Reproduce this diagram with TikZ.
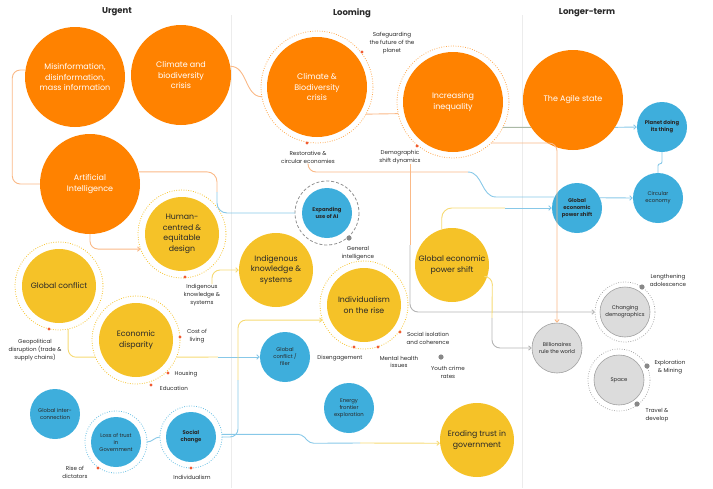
\documentclass[tikz,border=0pt]{standalone}
\usepackage{fontspec}
\setmainfont{Poppins}
\usetikzlibrary{arrows.meta}

\definecolor{agorange}{RGB}{255,130,0}
\definecolor{agyellow}{RGB}{245,194,40}
\definecolor{agblue}{RGB}{62,174,220}
\definecolor{aggreyfill}{RGB}{220,220,220}
\definecolor{aggreydraw}{RGB}{160,160,160}
\definecolor{agred}{RGB}{240,90,50}
\definecolor{agink}{RGB}{40,40,40}
\definecolor{lnorange}{RGB}{250,185,135}
\definecolor{lnblue}{RGB}{135,200,232}
\definecolor{lnyellow}{RGB}{246,218,115}
\definecolor{lngrey}{RGB}{180,180,180}
\definecolor{lngreen}{RGB}{170,185,165}
\definecolor{lndivider}{RGB}{236,236,236}

\tikzset{
	orangebig/.style={circle, fill=agorange, text=white, minimum size=100pt, inner sep=0pt, align=center, font=\fontsize{8}{10.5}\selectfont},
	yellowmid/.style={circle, fill=agyellow, text=agink, minimum size=74pt, inner sep=0pt, align=center, font=\fontsize{7.8}{10.5}\selectfont},
	bluesmall/.style={circle, fill=agblue, text=agink, minimum size=50pt, inner sep=0pt, align=center, font=\fontsize{5.3}{7}\selectfont},
	bluebold/.style={bluesmall, font=\bfseries\fontsize{5.3}{7}\selectfont},
	greysmall/.style={circle, fill=aggreyfill, draw=aggreydraw, line width=0.6pt, minimum size=50pt, inner sep=0pt, align=center, text=agink, font=\fontsize{5.3}{7}\selectfont},
	ringed/.style={outer sep=#1},
	notetext/.style={align=center, text=agink, inner sep=0pt, font=\fontsize{5.6}{7.8}\selectfont},
	headtext/.style={text=agink, font=\bfseries\fontsize{8.5}{10}\selectfont},
	orangering/.style={draw=agorange!70, line width=0.8pt, dash pattern=on 0.8pt off 1.6pt},
	yellowring/.style={draw=agyellow, line width=0.8pt, dash pattern=on 0.8pt off 1.6pt},
	bluering/.style={draw=agblue!80, line width=0.8pt, dash pattern=on 0.8pt off 1.6pt},
	greyring/.style={draw=aggreydraw, line width=0.7pt, dash pattern=on 0.8pt off 1.6pt},
	dashring/.style={draw=aggreydraw!90!black, line width=0.8pt, dash pattern=on 3pt off 2pt},
	reddot/.style={fill=agred},
	greydot/.style={fill=aggreydraw!85!black},
	orangeline/.style={draw=lnorange, line width=0.9pt},
	blueline/.style={draw=lnblue, line width=0.9pt},
	yellowline/.style={draw=lnyellow, line width=0.9pt},
	greyline/.style={draw=lngrey, line width=0.9pt},
	greenline/.style={draw=lngreen, line width=0.9pt},
	arrowtip/.style={-{Straight Barb[length=2.5pt,width=4.5pt]}},
}

\begin{document}
\begin{tikzpicture}[x=1pt,y=-1pt]
	\useasboundingbox (0,0) rectangle (713,488);
	\draw[lndivider, line width=0.8pt] (231,15) -- (231,488);		%column line
	\draw[lndivider, line width=0.8pt] (522,15) -- (522,488);		%column line
	\node[headtext] (hurgent) at (117,12) {Urgent};
	\node[headtext] (hlooming) at (352,13) {Looming};
	\node[headtext] (hlonger) at (587,13) {Longer-term};

	%urgent
	\node[orangebig] (mis) at (75,77) {Misinformation,\\disinformation,\\mass information};
	\node[orangebig] (cbu) at (181,75) {Climate and\\biodiversity\\crisis};
	\node[orangebig] (ai) at (90,184) {Artificial\\Intelligence};
	\node[yellowmid, ringed=7pt] (hcd) at (182,234) {Human-\\centred \&\\equitable\\design};
	\node[yellowmid, ringed=7pt] (gcon) at (59,286) {Global conflict};
	\node[yellowmid, ringed=7pt] (ecd) at (136,340) {Economic\\disparity};
	\node[bluesmall] (gic) at (55,414) {Global inter-\\connection};
	\node[bluesmall, ringed=6pt] (ltg) at (116,442) {Loss of trust\\in\\Government};
	\node[bluebold, ringed=6pt] (soc) at (191,437) {Social\\change};

	%looming
	\node[orangebig, ringed=6pt] (cbl) at (317,87) {Climate \&\\Biodiversity\\crisis};
	\node[orangebig, ringed=6pt] (ineq) at (453,102) {Increasing\\inequality};
	\node[bluebold, ringed=7pt] (eai) at (327,213) {Expanding\\use of AI};
	\node[yellowmid] (iks) at (276,270) {Indigenous\\knowledge \&\\systems};
	\node[yellowmid] (gep) at (452,265) {Global economic\\power shift};
	\node[yellowmid, ringed=7pt] (ind) at (364,305) {Individualism\\on the rise};
	\node[bluesmall] (gcf) at (285,357) {Global\\conflict /\\filer};
	\node[bluesmall] (efe) at (349,408) {Energy\\frontier\\exploration};
	\node[yellowmid] (etg) at (477,440) {Eroding trust in\\government};

	%longer-term
	\node[orangebig] (agile) at (573,100) {The Agile state};
	\node[bluebold] (pdt) at (662,127) {Planet doing\\its thing};
	\node[bluesmall] (circ) at (658,198) {Circular\\economy};
	\node[bluebold] (gepb) at (577,208) {Global\\economic\\power shift};
	\node[greysmall] (bil) at (557,348) {Billionaires\\rule the world};
	\node[greysmall, ringed=5pt] (chd) at (625,312) {Changing\\demographics};
	\node[greysmall, ringed=6pt] (spc) at (619,380) {Space};

	%labels
	\node[notetext] (sfp) at (392,43) {Safeguarding\\the future of the\\planet};
	\node[notetext] (rce) at (308,157) {Restorative \&\\circular economies};
	\node[notetext] (dsd) at (400,157) {Demographic\\shift dynamics};
	\node[notetext] (gin) at (358,253) {General\\intelligence};
	\node[notetext] (ikl) at (202,295) {Indigenous\\knowledge \&\\systems};
	\node[notetext] (geo) at (35,350) {Geopolitical\\disruption (trade \&\\supply chains)};
	\node[notetext] (col) at (197,336) {Cost of\\living};
	\node[notetext] (hou) at (186,374) {Housing};
	\node[notetext] (edu) at (174,388) {Education};
	\node[notetext] (sic) at (428,338) {Social isolation\\and coherence};
	\node[notetext] (dis) at (340,358) {Disengagement};
	\node[notetext] (mhi) at (399,362) {Mental health\\issues};
	\node[notetext] (ycr) at (448,372) {Youth crime\\rates};
	\node[notetext] (lad) at (668,280) {Lengthening\\adolescence};
	\node[notetext] (exm) at (670,367) {Exploration\\\& Mining};
	\node[notetext] (trd) at (657,415) {Travel \&\\develop};
	\node[notetext] (rod) at (75,472) {Rise of\\dictators};
	\node[notetext] (inl) at (192,477) {Individualism};

	%rings
	\draw[orangering] (cbl) circle (56);
	\draw[orangering] (ineq) circle (56);
	\draw[yellowring] (hcd) circle (44);
	\draw[yellowring] (gcon) circle (44);
	\draw[yellowring] (ecd) circle (44);
	\draw[yellowring] (ind) circle (44);
	\draw[bluering] (ltg) circle (31);
	\draw[bluering] (soc) circle (31);
	\draw[dashring] (eai) circle (32);
	\draw[greyring] (chd) circle (30);
	\draw[greyring] (spc) circle (31);

	%dots
	\fill[reddot] (362,52) circle (1.6);
	\fill[reddot] (307,143) circle (1.6);
	\fill[reddot] (417,146) circle (1.6);
	\fill[reddot] (185,277) circle (1.6);
	\fill[reddot] (49,329) circle (1.6);
	\fill[reddot] (180,337) circle (1.6);
	\fill[reddot] (168,373) circle (1.6);
	\fill[reddot] (151,385) circle (1.6);
	\fill[reddot] (400,332) circle (1.6);
	\fill[reddot] (354,347) circle (1.6);
	\fill[reddot] (378,347) circle (1.6);
	\fill[reddot] (98,468) circle (1.6);
	\fill[reddot] (191,468) circle (1.6);
	\fill[greydot] (349,238) circle (2.6);
	\fill[greydot] (441,357) circle (2.6);
	\fill[greydot] (642,287) circle (2.6);
	\fill[greydot] (647,366) circle (2.6);
	\fill[greydot] (637,404) circle (2.6);

	%connectors
	\coordinate (bend1) at (468,172);
	\coordinate (bend2) at (496,197);
	\coordinate (bend3) at (410,245);
	\coordinate (bend4) at (505,208);
	\coordinate (bend5) at (492,318);
	\coordinate (bend6) at (217,192);
	\coordinate (bend7) at (238,380);
	\coordinate (bend8) at (360,443);
	\coordinate (bend9) at (218,357);
	\draw[orangeline, rounded corners=8] (mis.172) -- ++(-13,0) |- (ai.west);			%misinformation to AI
	\draw[orangeline] (cbu.10) to[out=0,in=180] (cbl.190);							%climate to climate
	\draw[orangeline] (cbl.-29) -- (ineq.192);
	\draw[greenline] (ineq.-27) -- (agile.213);
	\draw[orangeline, arrowtip, rounded corners=8] (ineq.-47) -| (bil.north);
	\draw[blueline, arrowtip] (agile.-33) -- (pdt.west);
	\draw[blueline, rounded corners=2] (circ.north) -- ++(0,-9) -| (pdt.south);
	\draw[blueline, arrowtip] (gepb.24) -- (circ.west);
	\draw[orangeline, rounded corners=8] (rce.south) |- (bend1);						%restorative to power shift
	\draw[blueline] (bend1) to[out=0,in=180] (bend2) -- (gepb.154);
	\draw[orangeline, rounded corners=8] ([xshift=10pt]dsd.south) -- (bend3);			%demographics
	\draw[greyline, arrowtip, rounded corners=8] (bend3) |- (chd.west);
	\draw[yellowline, rounded corners=10] (gep.106) |- (bend4);						%power shift to power shift
	\draw[blueline, arrowtip] (bend4) -- (gepb.west);
	\draw[yellowline, rounded corners=8] (gep.-18) -- ++(5,0) -- (bend5);
	\draw[greyline, arrowtip, rounded corners=8] (bend5) |- (bil.west);
	\draw[orangeline, rounded corners=10] (ai.14) -| (bend6);							%AI to expanding AI
	\draw[blueline, rounded corners=10] (bend6) |- (eai.west);
	\draw[orangeline, arrowtip, rounded corners=8] (ai.south) |- (hcd.200);
	\draw[yellowline, arrowtip, rounded corners=8] ([xshift=10pt]ikl.north) |- (iks.west);
	\draw[yellowline, rounded corners=8] (gcon.-78) |- (ecd.203);
	\draw[yellowline] (ecd.-23) -- (bend9);
	\draw[blueline, arrowtip] (bend9) -- (gcf.west);
	\draw[blueline, rounded corners=8] (soc.east) -| (bend7);							%social change up
	\draw[yellowline, arrowtip, rounded corners=8] (bend7) |- (ind.200);
	\draw[blueline, rounded corners=4] (soc.5) -- ++(80,0) -- ++(8,9) -- (bend8);		%social change across
	\draw[yellowline, arrowtip] (bend8) -- (etg.185);
	\draw[blueline] (ltg.east) to[out=0,in=180] (soc.west);
\end{tikzpicture}
\end{document}
